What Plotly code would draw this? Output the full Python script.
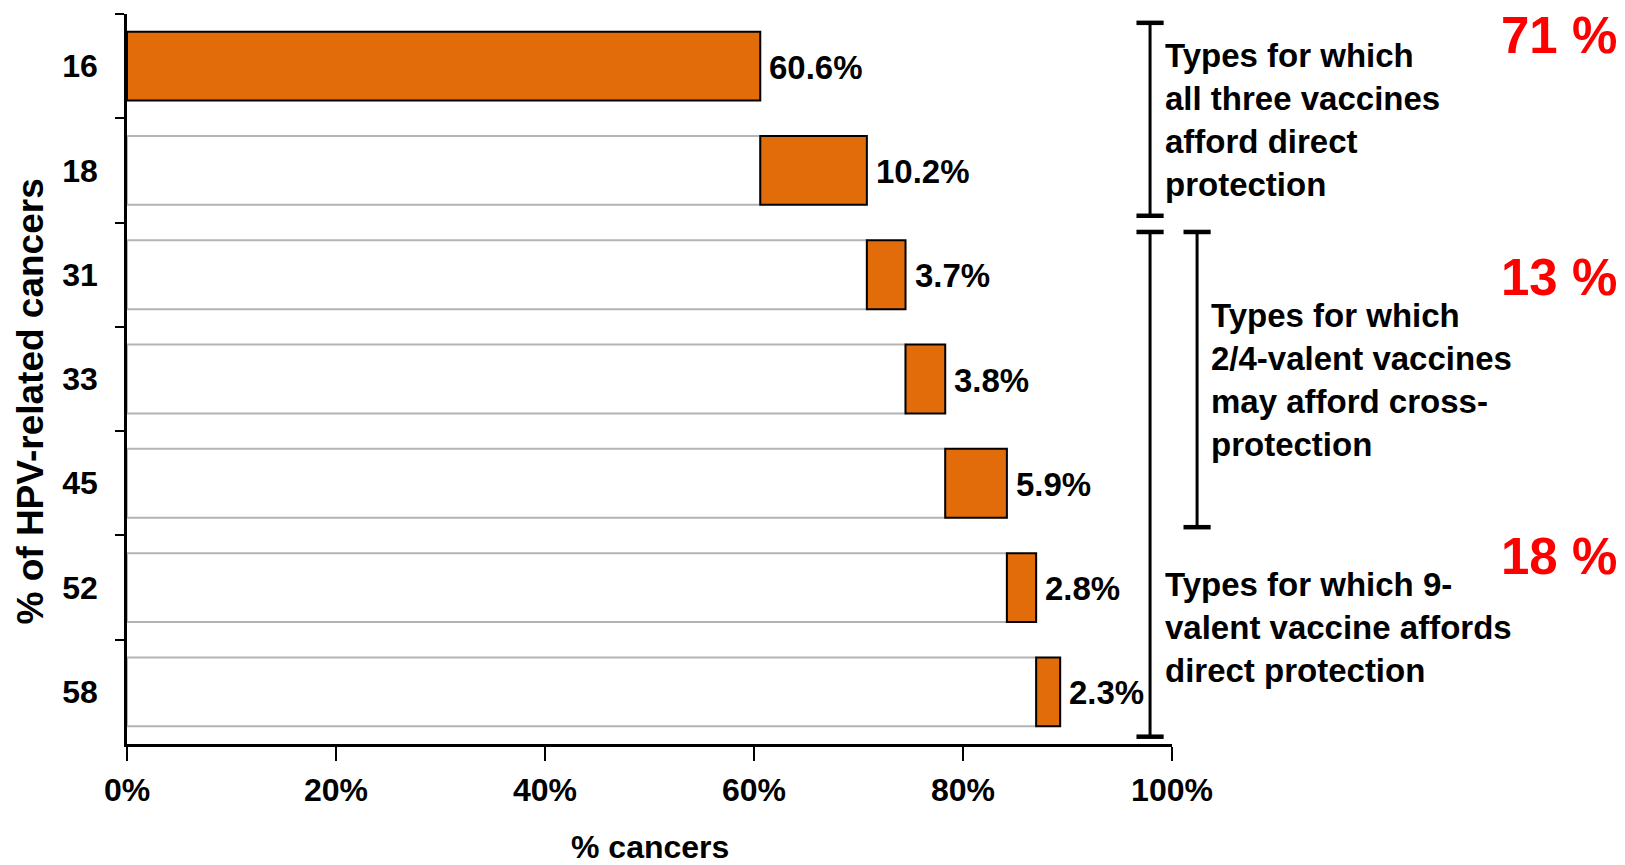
import plotly.graph_objects as go

# ---- data ----
hpv_types = ["16", "18", "31", "33", "45", "52", "58"]
shares = [60.6, 10.2, 3.7, 3.8, 5.9, 2.8, 2.3]
share_labels = ["60.6%", "10.2%", "3.7%", "3.8%", "5.9%", "2.8%", "2.3%"]
x_tick_vals = [0, 20, 40, 60, 80, 100]
x_tick_text = ["0%", "20%", "40%", "60%", "80%", "100%"]
group_totals = ["71 %", "13 %", "18 %"]
group_texts = [
    "Types for which<br>all three vaccines<br>afford direct<br>protection",
    "Types for which<br>2/4-valent vaccines<br>may afford cross-<br>protection",
    "Types for which 9-<br>valent vaccine affords<br>direct protection",
]

starts = []
acc = 0.0
for s in shares:
    starts.append(acc)
    acc += s
ends = [b + s for b, s in zip(starts, shares)]

FONT = "Arial, Liberation Sans, sans-serif"
ORANGE = "#E36C0A"

fig = go.Figure()
# white base bars with grey outline
fig.add_trace(go.Bar(
    y=hpv_types, x=starts, orientation="h", width=0.66,
    marker=dict(color="white", line=dict(color="#b4b4b4", width=2)),
    hoverinfo="skip", showlegend=False,
))
# orange increments
fig.add_trace(go.Bar(
    y=hpv_types, x=shares, base=starts, orientation="h", width=0.66,
    marker=dict(color=ORANGE, line=dict(color="black", width=2)),
    showlegend=False,
))

# value labels, anchored at each bar end (y = category index)
for idx, (xv, lab) in enumerate(zip(ends, share_labels)):
    fig.add_annotation(text=lab, xref="x", yref="y", x=xv, y=idx,
                       xanchor="left", yanchor="middle", xshift=7, yshift=-1,
                       showarrow=False,
                       font=dict(family=FONT, size=33, color="black", weight="bold"))

# brackets (paper coordinates)
def bracket(x, y0, y1, cap=0.013):
    fig.add_shape(type="line", xref="paper", yref="paper", x0=x, x1=x, y0=y0, y1=y1,
                  line=dict(color="black", width=3))
    for yy in (y0, y1):
        fig.add_shape(type="line", xref="paper", yref="paper", x0=x - cap, x1=x + cap,
                      y0=yy, y1=yy, line=dict(color="black", width=4.5))

bracket(0.979, 0.9879, 0.7236)
bracket(0.979, 0.7014, 0.010)
bracket(1.024, 0.7014, 0.297)

text_pos = [(0.991, 0.855), (1.035, 0.498), (0.991, 0.159)]
for (tx, ty), t in zip(text_pos, group_texts):
    fig.add_annotation(text=t, xref="paper", yref="paper", x=tx, y=ty,
                       xanchor="left", yanchor="middle", align="left",
                       showarrow=False,
                       font=dict(family=FONT, size=33, color="black", weight="bold"))

red_y = [0.971, 0.639, 0.257]
for ry, t in zip(red_y, group_totals):
    fig.add_annotation(text=t, xref="paper", yref="paper", x=1.428, y=ry,
                       xanchor="right", yanchor="middle", showarrow=False,
                       font=dict(family=FONT, size=51, color="#FF0000", weight="bold"))

# axis titles
fig.add_annotation(text="% of HPV-related cancers", xref="paper", yref="paper",
                   x=-0.092, y=0.469, textangle=-90, showarrow=False,
                   xanchor="center", yanchor="middle",
                   font=dict(family=FONT, size=37, color="black", weight="bold"))
fig.add_annotation(text="% cancers", xref="paper", yref="paper",
                   x=0.5, y=-0.141, showarrow=False,
                   xanchor="center", yanchor="middle",
                   font=dict(family=FONT, size=32, color="black", weight="bold"))

fig.update_layout(
    width=1625, height=865,
    margin=dict(l=127, r=453, t=14, b=121),
    barmode="overlay",
    plot_bgcolor="white", paper_bgcolor="white",
    font=dict(family=FONT, size=32, color="black"),
)
fig.update_xaxes(
    range=[0, 100], tickvals=x_tick_vals, ticktext=x_tick_text,
    showline=True, linecolor="black", linewidth=2.5,
    ticks="outside", ticklen=14, tickwidth=2, tickcolor="black",
    showgrid=False, zeroline=False,
    tickfont=dict(family=FONT, size=32, color="black", weight="bold"),
    ticklabelstandoff=2,
)
fig.update_yaxes(
    type="category", categoryorder="array", categoryarray=hpv_types,
    range=[6.5, -0.5], tickson="boundaries",
    showline=True, linecolor="black", linewidth=2.5,
    ticks="outside", ticklen=9, tickwidth=2, tickcolor="black",
    showgrid=False, zeroline=False,
    tickfont=dict(family=FONT, size=32, color="black", weight="bold"),
    ticklabelstandoff=20,
)

fig.write_html("out.html")
